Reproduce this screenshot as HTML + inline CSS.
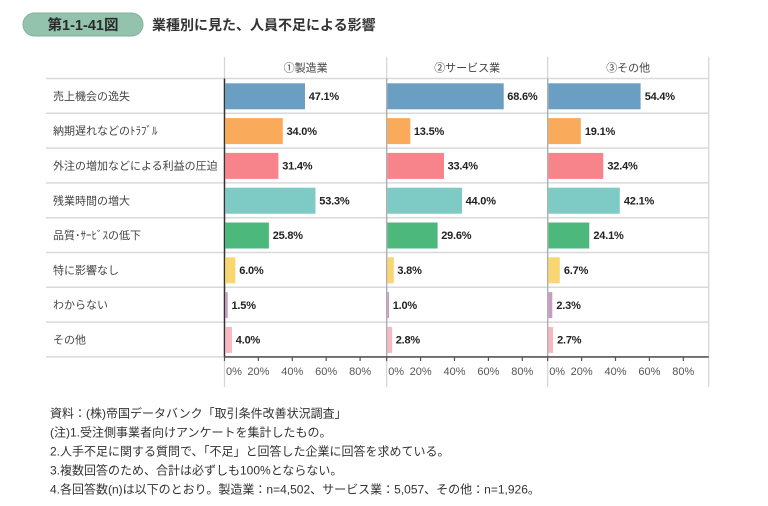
<!DOCTYPE html>
<html><head><meta charset="utf-8"><style>
html,body{margin:0;padding:0;background:#fff;}
svg{display:block;}
text{font-family:"Liberation Sans","Noto Sans CJK JP",sans-serif;}
.rl{font-size:11px;fill:#444;}
.vl{font-size:11px;font-weight:bold;fill:#222;letter-spacing:-0.2px;}
.tk{font-size:11px;fill:#555;}
.hd{font-size:11px;fill:#444;}
.fn{font-size:12px;fill:#333;}
</style></head><body>
<svg width="768" height="506" viewBox="0 0 768 506" xmlns="http://www.w3.org/2000/svg">
<rect width="768" height="506" fill="#fff"/>
<!-- title -->
<rect x="23" y="13" width="120" height="23" rx="11.5" fill="#93c2ad" stroke="#80b39c" stroke-width="1"/>
<text x="83" y="30" text-anchor="middle" style="font-size:14.5px;font-weight:bold;fill:#2a2a2a;">第1-1-41図</text>
<text x="152" y="30" style="font-size:14px;font-weight:bold;fill:#333;">業種別に見た、人員不足による影響</text>

<!-- row lines -->
<g stroke="#d9d9d9" stroke-width="1.5">
<line x1="46" y1="78.5" x2="708.7" y2="78.5"/>
<line x1="46" y1="113.3" x2="708.7" y2="113.3"/>
<line x1="46" y1="148.1" x2="708.7" y2="148.1"/>
<line x1="46" y1="182.9" x2="708.7" y2="182.9"/>
<line x1="46" y1="217.7" x2="708.7" y2="217.7"/>
<line x1="46" y1="252.5" x2="708.7" y2="252.5"/>
<line x1="46" y1="287.3" x2="708.7" y2="287.3"/>
<line x1="46" y1="322.1" x2="708.7" y2="322.1"/>
<line x1="46" y1="356.9" x2="224.5" y2="356.9"/>
</g>
<!-- vertical lines light -->
<g stroke="#d4d4d4" stroke-width="1.2">
<line x1="224.5" y1="57" x2="224.5" y2="387"/>
<line x1="386.7" y1="57" x2="386.7" y2="387"/>
<line x1="547.7" y1="57" x2="547.7" y2="387"/>
<line x1="708.7" y1="57" x2="708.7" y2="387"/>
</g>
<line x1="386.7" y1="78.5" x2="386.7" y2="357" stroke="#a8a8a8" stroke-width="1.2"/>
<line x1="547.7" y1="78.5" x2="547.7" y2="357" stroke="#a8a8a8" stroke-width="1.2"/>
<line x1="224.5" y1="78.5" x2="224.5" y2="357" stroke="#333" stroke-width="1.5"/>

<!-- headers -->
<text class="hd" x="305.6" y="71.5" text-anchor="middle">①製造業</text>
<text class="hd" x="467.2" y="71.5" text-anchor="middle">②サービス業</text>
<text class="hd" x="628.2" y="71.5" text-anchor="middle">③その他</text>

<!-- row labels -->
<text class="rl" x="53" y="99.9">売上機会の逸失</text>
<text class="rl" x="53" y="134.7">納期遅れなどのﾄﾗﾌﾞﾙ</text>
<text class="rl" x="53" y="169.5">外注の増加などによる利益の圧迫</text>
<text class="rl" x="53" y="204.3">残業時間の増大</text>
<text class="rl" x="53" y="239.1">品質･ｻｰﾋﾞｽの低下</text>
<text class="rl" x="53" y="273.9">特に影響なし</text>
<text class="rl" x="53" y="308.7">わからない</text>
<text class="rl" x="53" y="343.5">その他</text>

<!-- bars panel 1 -->
<g>
<rect x="225.2" y="83.3" width="79.8" height="26" fill="#6a9ec3"/>
<rect x="225.2" y="118.1" width="57.6" height="26" fill="#f9aa5a"/>
<rect x="225.2" y="152.9" width="53.2" height="26" fill="#f7838b"/>
<rect x="225.2" y="187.7" width="90.3" height="26" fill="#7dcbc4"/>
<rect x="225.2" y="222.5" width="43.7" height="26" fill="#4cb87c"/>
<rect x="225.2" y="257.3" width="10.2" height="26" fill="#f8d672"/>
<rect x="225.2" y="292.1" width="2.5" height="26" fill="#c89bc0"/>
<rect x="225.2" y="326.9" width="6.8" height="26" fill="#f7b8c4"/>
</g>
<g>
<rect x="387.4" y="83.3" width="116.3" height="26" fill="#6a9ec3"/>
<rect x="387.4" y="118.1" width="22.9" height="26" fill="#f9aa5a"/>
<rect x="387.4" y="152.9" width="56.6" height="26" fill="#f7838b"/>
<rect x="387.4" y="187.7" width="74.6" height="26" fill="#7dcbc4"/>
<rect x="387.4" y="222.5" width="50.2" height="26" fill="#4cb87c"/>
<rect x="387.4" y="257.3" width="6.4" height="26" fill="#f8d672"/>
<rect x="387.4" y="292.1" width="1.7" height="26" fill="#c89bc0"/>
<rect x="387.4" y="326.9" width="4.7" height="26" fill="#f7b8c4"/>
</g>
<g>
<rect x="548.4" y="83.3" width="92.2" height="26" fill="#6a9ec3"/>
<rect x="548.4" y="118.1" width="32.4" height="26" fill="#f9aa5a"/>
<rect x="548.4" y="152.9" width="54.9" height="26" fill="#f7838b"/>
<rect x="548.4" y="187.7" width="71.4" height="26" fill="#7dcbc4"/>
<rect x="548.4" y="222.5" width="40.9" height="26" fill="#4cb87c"/>
<rect x="548.4" y="257.3" width="11.4" height="26" fill="#f8d672"/>
<rect x="548.4" y="292.1" width="3.9" height="26" fill="#c89bc0"/>
<rect x="548.4" y="326.9" width="4.6" height="26" fill="#f7b8c4"/>
</g>

<!-- value labels -->
<text class="vl" x="308.8" y="100">47.1%</text>
<text class="vl" x="286.6" y="134.8">34.0%</text>
<text class="vl" x="282.2" y="169.6">31.4%</text>
<text class="vl" x="319.3" y="204.4">53.3%</text>
<text class="vl" x="272.7" y="239.2">25.8%</text>
<text class="vl" x="239.2" y="274">6.0%</text>
<text class="vl" x="231.5" y="308.8">1.5%</text>
<text class="vl" x="235.8" y="343.6">4.0%</text>

<text class="vl" x="507.3" y="100">68.6%</text>
<text class="vl" x="413.9" y="134.8">13.5%</text>
<text class="vl" x="447.6" y="169.6">33.4%</text>
<text class="vl" x="465.6" y="204.4">44.0%</text>
<text class="vl" x="441.2" y="239.2">29.6%</text>
<text class="vl" x="397.4" y="274">3.8%</text>
<text class="vl" x="392.7" y="308.8">1.0%</text>
<text class="vl" x="395.7" y="343.6">2.8%</text>

<text class="vl" x="644.7" y="100">54.4%</text>
<text class="vl" x="584.9" y="134.8">19.1%</text>
<text class="vl" x="607.4" y="169.6">32.4%</text>
<text class="vl" x="623.9" y="204.4">42.1%</text>
<text class="vl" x="593.4" y="239.2">24.1%</text>
<text class="vl" x="563.9" y="274">6.7%</text>
<text class="vl" x="556.4" y="308.8">2.3%</text>
<text class="vl" x="557.1" y="343.6">2.7%</text>

<!-- axis -->
<line x1="224" y1="356.9" x2="708.7" y2="356.9" stroke="#555" stroke-width="1.6"/>
<g stroke="#555" stroke-width="1.2">
<line x1="224.5" y1="357" x2="224.5" y2="361"/>
<line x1="258.4" y1="357" x2="258.4" y2="361"/>
<line x1="292.3" y1="357" x2="292.3" y2="361"/>
<line x1="326.2" y1="357" x2="326.2" y2="361"/>
<line x1="360.1" y1="357" x2="360.1" y2="361"/>
<line x1="386.7" y1="357" x2="386.7" y2="361"/>
<line x1="420.6" y1="357" x2="420.6" y2="361"/>
<line x1="454.5" y1="357" x2="454.5" y2="361"/>
<line x1="488.4" y1="357" x2="488.4" y2="361"/>
<line x1="522.3" y1="357" x2="522.3" y2="361"/>
<line x1="547.7" y1="357" x2="547.7" y2="361"/>
<line x1="581.6" y1="357" x2="581.6" y2="361"/>
<line x1="615.5" y1="357" x2="615.5" y2="361"/>
<line x1="649.4" y1="357" x2="649.4" y2="361"/>
<line x1="683.3" y1="357" x2="683.3" y2="361"/>
</g>
<g>
<text class="tk" x="226" y="375">0%</text>
<text class="tk" x="258.4" y="375" text-anchor="middle">20%</text>
<text class="tk" x="292.3" y="375" text-anchor="middle">40%</text>
<text class="tk" x="326.2" y="375" text-anchor="middle">60%</text>
<text class="tk" x="360.1" y="375" text-anchor="middle">80%</text>
<text class="tk" x="388.2" y="375">0%</text>
<text class="tk" x="420.6" y="375" text-anchor="middle">20%</text>
<text class="tk" x="454.5" y="375" text-anchor="middle">40%</text>
<text class="tk" x="488.4" y="375" text-anchor="middle">60%</text>
<text class="tk" x="522.3" y="375" text-anchor="middle">80%</text>
<text class="tk" x="549.2" y="375">0%</text>
<text class="tk" x="581.6" y="375" text-anchor="middle">20%</text>
<text class="tk" x="615.5" y="375" text-anchor="middle">40%</text>
<text class="tk" x="649.4" y="375" text-anchor="middle">60%</text>
<text class="tk" x="683.3" y="375" text-anchor="middle">80%</text>
</g>

<!-- footnotes -->
<text class="fn" x="50" y="417.5">資料：(株)帝国データバンク「取引条件改善状況調査」</text>
<text class="fn" x="50" y="436.5">(注)1.受注側事業者向けアンケートを集計したもの。</text>
<text class="fn" x="50" y="455.5">2.人手不足に関する質問で、「不足」と回答した企業に回答を求めている。</text>
<text class="fn" x="50" y="474.5">3.複数回答のため、合計は必ずしも100%とならない。</text>
<text class="fn" x="50" y="493.5">4.各回答数(n)は以下のとおり。製造業：n=4,502、サービス業：5,057、その他：n=1,926。</text>
</svg>
</body></html>
